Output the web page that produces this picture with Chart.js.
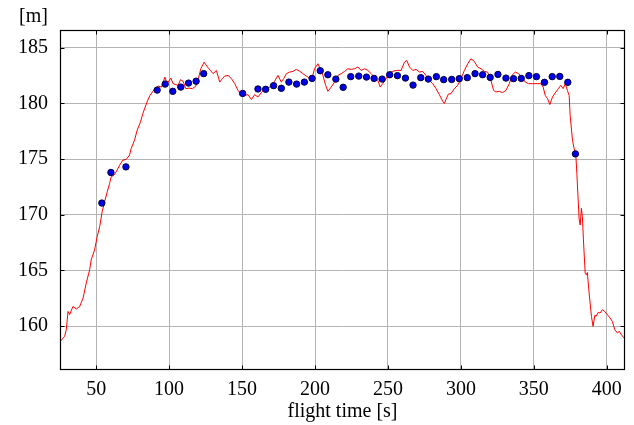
<!DOCTYPE html>
<html>
<head>
<meta charset="utf-8">
<script src="https://cdn.jsdelivr.net/npm/chart.js@4.4.1/dist/chart.umd.min.js"></script>
<style>
html,body{margin:0;padding:0;background:#fff;}
canvas{display:block;}
</style>
</head>
<body>
<canvas id="c" width="634" height="425"></canvas>
<script>
// Red line: flight time [s] and altitude [m]
const lineTime = [25.0,28.4,29.5,30.7,31.8,34.1,36.4,38.7,41.0,43.2,45.5,46.6,48.9,50.7,52.4,54.1,55.8,57.6,59.2,60.3,62.2,63.7,66.1,68.3,70.6,72.9,74.0,76.3,78.1,80.4,82.0,83.6,85.4,86.8,90.2,92.5,94.8,97.1,98.6,101.2,102.7,104.6,106.2,107.8,109.6,111.4,113.7,116.0,118.3,119.8,121.7,124.0,126.3,128.3,130.1,132.4,134.7,136.5,138.1,140.4,142.7,145.0,147.2,149.5,151.8,154.1,156.4,158.6,160.9,163.2,165.5,167.7,170.0,172.3,174.6,176.9,178.5,180.4,182.6,184.9,187.2,189.5,191.7,195.1,197.5,199.7,202.0,203.6,205.4,207.3,208.8,211.1,213.4,215.7,218.0,220.3,222.5,224.8,227.1,229.4,231.7,234.0,236.2,238.5,240.8,243.1,244.7,246.4,248.8,251.0,253.3,255.6,259.0,261.3,262.9,264.8,267.0,269.3,271.6,273.8,276.1,278.4,280.7,283.0,285.2,287.5,288.7,290.2,291.5,293.2,295.5,297.8,300.1,302.4,304.7,306.9,309.2,311.5,313.8,316.1,318.3,320.6,322.4,324.0,326.3,328.6,330.9,333.2,335.0,337.3,339.5,341.8,344.1,346.4,349.1,352.6,354.8,356.4,357.8,359.4,361.0,362.8,365.1,366.9,368.5,370.1,371.5,373.0,374.2,374.9,376.5,377.6,378.8,379.5,380.4,381.1,381.8,382.6,383.3,384.0,385.2,386.0,386.7,387.9,389.5,390.6,391.8,392.7,394.1,395.4,397.0,398.6,400.4,402.3,403.8,405.5,407.3,408.6,410.0,411.9,413.0];
const lineAlt = [158.57,159.07,159.67,161.31,161.02,161.76,161.53,161.76,162.51,163.86,165.05,165.95,166.84,168.03,168.93,170.27,171.17,172.07,172.82,173.41,173.56,173.86,174.46,174.91,174.97,175.36,175.96,176.7,177.6,178.34,179.09,179.68,180.3,180.7,181.33,181.56,181.47,182.37,181.78,182.28,181.78,181.69,181.63,182.14,181.99,181.33,181.38,181.33,181.56,182.07,183.12,183.71,183.27,182.97,182.68,182.97,181.92,182.23,182.46,182.52,182.23,181.78,181.18,180.79,180.73,180.79,180.35,180.79,180.58,180.97,181.33,181.33,181.63,181.99,182.52,181.92,182.23,182.68,182.82,182.88,183.06,182.9,182.68,182.37,182.07,183.12,183.57,183.12,182.52,181.63,181.09,181.47,181.92,182.52,182.68,182.88,183.12,183.06,183.12,183.27,182.97,183.12,182.97,182.68,182.37,182.07,181.47,181.78,182.23,182.76,182.88,182.97,182.97,183.71,183.86,183.27,182.97,183.06,182.82,182.88,182.52,182.07,181.78,181.33,180.8,180.2,180.0,180.5,180.85,180.88,181.33,181.63,182.23,182.97,183.57,184.02,183.78,183.27,183.12,182.88,182.82,182.07,181.18,181.03,181.09,180.97,181.18,181.78,182.52,182.82,182.68,182.37,181.92,181.78,181.78,181.78,181.78,181.47,180.73,180.43,179.9,180.58,181.03,181.33,181.63,181.33,181.78,181.18,180.73,178.94,176.7,175.96,175.36,173.71,171.32,169.53,169.08,170.58,169.83,167.74,164.75,164.6,164.81,162.96,160.87,159.97,160.96,160.87,161.22,161.17,161.47,161.31,161.02,160.72,160.42,159.67,159.38,159.52,159.22,158.93,158.8];

// Blue dots
const dotTime = [53.9,60.1,70.4,91.8,97.3,102.5,108.0,113.3,118.5,123.7,150.4,160.9,166.2,171.6,176.9,182.1,187.4,192.7,198.0,203.6,208.8,214.3,219.3,224.5,230.0,235.3,240.5,246.0,251.2,256.5,262.0,267.2,272.5,277.7,283.2,288.2,293.7,298.9,304.4,309.7,314.9,320.1,325.4,330.9,336.1,341.4,346.6,351.8,357.3,362.6,367.8,373.3,378.5];
const dotAlt = [171.05,173.8,174.3,181.2,181.74,181.09,181.47,181.83,182.0,182.68,180.9,181.3,181.27,181.6,181.36,181.92,181.74,181.92,182.25,182.94,182.58,182.19,181.45,182.41,182.46,182.37,182.25,182.19,182.58,182.5,182.28,181.65,182.32,182.19,182.41,182.14,182.16,182.23,182.32,182.68,182.58,182.34,182.61,182.28,182.23,182.25,182.5,182.41,181.9,182.41,182.43,181.9,175.47];

// Tick labels
const xTicks = [50,100,150,200,250,300,350,400];
const yTicks = [160,165,170,175,180,185];
const xTitle = 'flight time [s]';
const yUnit = '[m]';

const FONT = 'Liberation Serif, Times New Roman, serif';

const framePlugin = {
  id: 'frame',
  afterDatasetsDraw(chart) {
    const ctx = chart.ctx, a = chart.chartArea;
    const xs = chart.scales.x, ys = chart.scales.y;
    ctx.save();
    ctx.strokeStyle = '#000';
    ctx.lineWidth = 1;
    ctx.beginPath();
    const L = Math.round(a.left) + 0.5, R = Math.round(a.right) - 0.5;
    const T = Math.round(a.top) + 0.5, B = Math.round(a.bottom) - 0.5;
    xTicks.forEach(v => {
      const px = Math.round(xs.getPixelForValue(v)) + 0.5;
      ctx.moveTo(px, B); ctx.lineTo(px, B - 4);
      ctx.moveTo(px, T); ctx.lineTo(px, T + 4);
    });
    yTicks.forEach(v => {
      const py = Math.round(ys.getPixelForValue(v)) + 0.5;
      ctx.moveTo(L, py); ctx.lineTo(L + 4, py);
      ctx.moveTo(R, py); ctx.lineTo(R - 4, py);
    });
    ctx.stroke();
    ctx.lineWidth = 1.2;
    ctx.strokeRect(L, T, R - L, B - T);
    ctx.fillStyle = '#000';
    ctx.font = '20px ' + FONT;
    ctx.textAlign = 'right';
    ctx.textBaseline = 'middle';
    ctx.fillText(yUnit, a.left - 12, a.top - 13);
    ctx.restore();
  }
};

new Chart(document.getElementById('c'), {
  type: 'scatter',
  data: {
    datasets: [
      {
        data: dotTime.map((t, i) => ({x: t, y: dotAlt[i]})),
        showLine: false,
        pointRadius: 3.2,
        pointBackgroundColor: '#0000ee',
        pointBorderColor: '#00003a',
        pointBorderWidth: 1
      },
      {
        data: lineTime.map((t, i) => ({x: t, y: lineAlt[i]})),
        showLine: true,
        borderColor: '#ff0000',
        borderWidth: 1,
        pointRadius: 0,
        tension: 0
      }
    ]
  },
  options: {
    responsive: false,
    animation: false,
    events: [],
    layout: {padding: {left: 0, top: 30, right: 9, bottom: 0}},
    plugins: {legend: {display: false}, tooltip: {enabled: false}},
    scales: {
      x: {
        type: 'linear',
        min: 25.2, max: 412.5,
        afterBuildTicks: s => { s.ticks = xTicks.map(v => ({value: v})); },
        afterFit: s => { s.height = 55; },
        grid: {color: '#b4b4b4', lineWidth: 1, drawTicks: false},
        border: {display: false},
        ticks: {color: '#000', font: {family: FONT, size: 20}, padding: 8, maxRotation: 0},
        title: {display: true, text: xTitle, color: '#000', font: {family: FONT, size: 20}, padding: {top: 0, bottom: 1}}
      },
      y: {
        type: 'linear',
        min: 156.05, max: 186.6,
        afterBuildTicks: s => { s.ticks = yTicks.map(v => ({value: v})); },
        afterFit: s => { s.width = 60; },
        grid: {color: '#b4b4b4', lineWidth: 1, drawTicks: false},
        border: {display: false},
        ticks: {color: '#000', font: {family: FONT, size: 20}, padding: 12}
      }
    }
  },
  plugins: [framePlugin]
});
</script>
</body>
</html>
